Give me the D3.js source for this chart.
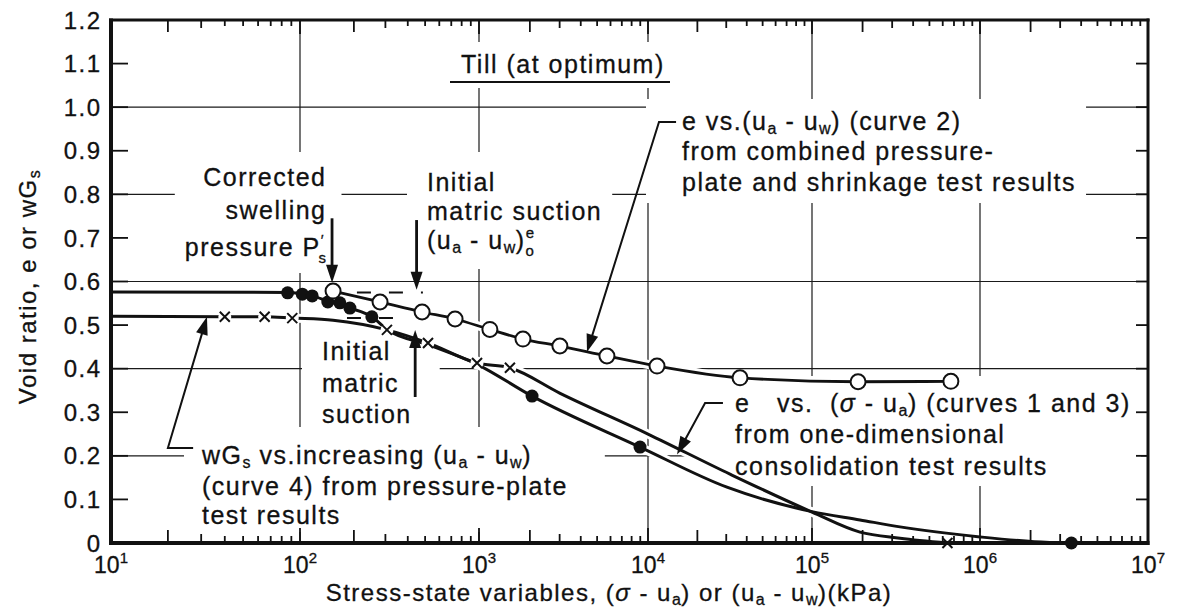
<!DOCTYPE html>
<html>
<head>
<meta charset="utf-8">
<script src="https://cdn.jsdelivr.net/npm/d3@7"></script>
<style>
  html, body { margin: 0; padding: 0; background: #fff; }
  svg { display: block; font-family: "Liberation Sans", Arial, Helvetica, sans-serif; }
  text { fill: #111; stroke: #111; stroke-width: 0.3px; }
  .note { font-size: 25px; letter-spacing: 1.5px; }
  .ytick { font-size: 24px; letter-spacing: 1.5px; }
  .xtick { font-size: 23px; letter-spacing: 0px; }
  .title { font-size: 24px; letter-spacing: 1.5px; }
</style>
</head>
<body>
<svg id="chart" width="1180" height="614"></svg>
<script>
// ---- Axis values ----
const stressDecades = [1e1, 1e2, 1e3, 1e4, 1e5, 1e6, 1e7];
const decadeExponents = ["1", "2", "3", "4", "5", "6", "7"];
const voidTicks = [0, 0.1, 0.2, 0.3, 0.4, 0.5, 0.6, 0.7, 0.8, 0.9, 1.0, 1.1, 1.2];
const voidTickLabels = ["0", "0.1", "0.2", "0.3", "0.4", "0.5", "0.6", "0.7", "0.8", "0.9", "1.0", "1.1", "1.2"];
const voidGrid = [0.2, 0.4, 0.6, 0.8, 1.0];

// ---- Curve 1: e vs (sigma - ua), one-dimensional consolidation (filled dots) ----
const curve1Points = [[86, 0.574], [103, 0.571], [117, 0.567], [143, 0.553], [167, 0.551],
  [190, 0.539], [252, 0.519], [2060, 0.337], [8970, 0.220], [3.5e6, 0]];
const curve1Trace = [[10, 0.576], [86, 0.575], [117, 0.567], [143, 0.555], [190, 0.539],
  [252, 0.519], [306, 0.490], [519, 0.455], [975, 0.410], [2060, 0.337], [8970, 0.220],
  [30300, 0.128], [1e5, 0.072], [1.93e5, 0.053], [3.34e5, 0.037], [1e6, 0.014],
  [2.1e6, 0.003], [3.5e6, 0]];

// ---- Curve 2: e vs (ua - uw), pressure-plate and shrinkage (open circles) ----
const curve2Points = [[153, 0.578], [280, 0.553], [481, 0.530], [735, 0.514], [1160, 0.490],
  [1820, 0.468], [3010, 0.452], [5715, 0.429], [11350, 0.406], [36400, 0.379],
  [188000, 0.370], [671000, 0.371]];

// ---- Curve 4: wGs vs increasing (ua - uw), pressure plate (crosses) ----
const curve4Points = [[40, 0.519], [65, 0.519], [91, 0.516], [306, 0.489], [519, 0.459],
  [975, 0.413], [1524, 0.402], [6.4e5, 0]];
const curve4Trace = [[10, 0.520], [40, 0.519], [65, 0.519], [91, 0.516], [153, 0.511],
  [306, 0.489], [519, 0.459], [975, 0.413], [1524, 0.402], [3000, 0.344], [1e4, 0.250],
  [31600, 0.158], [1e5, 0.071], [1.93e5, 0.025], [3.34e5, 0.011], [6.4e5, 0]];

// ---- Dashed extensions of the initial plateaus ----
const e0Extension = [[208, 0.575], [486, 0.575]];
const wGsExtension = [[183, 0.516], [398, 0.516]];

// ---- Scales ----
const x = d3.scaleLog().domain(stressDecades).range([111, 300, 479, 648, 812, 980, 1148]);
const y = d3.scaleLinear().domain([0, 1.2]).range([543, 20]);
const X0 = x(1e1), X1 = x(1e7), Y0 = y(0), Y1 = y(1.2);

const svg = d3.select("#chart");
const gGrid = svg.append("g");
const gMask = svg.append("g");
const gHalo = svg.append("g");
const gCurve = svg.append("g");
const gMark = svg.append("g");
const gNote = svg.append("g");
const gArrow = svg.append("g");
const gAxis = svg.append("g");

// ---- Grid ----
stressDecades.slice(1, -1).forEach(v => {
  gGrid.append("line").attr("x1", x(v)).attr("x2", x(v)).attr("y1", Y1).attr("y2", Y0)
    .attr("stroke", "#1a1a1a").attr("stroke-width", 1.2);
});
voidGrid.forEach(v => {
  gGrid.append("line").attr("x1", X0).attr("x2", X1).attr("y1", y(v)).attr("y2", y(v))
    .attr("stroke", "#1a1a1a").attr("stroke-width", 1.2);
});

// ---- Curves ----
const line = d3.line().x(d => x(d[0])).y(d => y(d[1])).curve(d3.curveMonotoneX);
const traces = [
  { data: curve1Trace, w: 3 },
  { data: curve4Trace, w: 3 },
  { data: curve2Points, w: 2.8 }
];
traces.forEach(t => {
  gHalo.append("path").attr("d", line(t.data)).attr("fill", "none")
    .attr("stroke", "#fff").attr("stroke-width", 9);
});
traces.forEach(t => {
  gCurve.append("path").attr("d", line(t.data)).attr("fill", "none")
    .attr("stroke", "#111").attr("stroke-width", t.w).attr("stroke-linejoin", "round");
});
[e0Extension, wGsExtension].forEach(seg => {
  gCurve.append("path").attr("d", d3.line().x(d => x(d[0])).y(d => y(d[1]))(seg))
    .attr("fill", "none").attr("stroke", "#111").attr("stroke-width", 2)
    .attr("stroke-dasharray", "14,18");
});

// ---- Markers ----
gMark.selectAll(".c4").data(curve4Points).join("g")
  .attr("transform", d => `translate(${x(d[0])},${y(d[1])})`)
  .each(function () {
    const g = d3.select(this);
    g.append("circle").attr("r", 6.5).attr("fill", "#fff");
    g.append("path").attr("d", "M-5,-5L5,5M-5,5L5,-5").attr("stroke", "#111")
      .attr("stroke-width", 2).attr("fill", "none");
  });
gMark.selectAll(".c1").data(curve1Points).join("circle")
  .attr("cx", d => x(d[0])).attr("cy", d => y(d[1])).attr("r", 6.5).attr("fill", "#111");
gMark.selectAll(".c2").data(curve2Points).join("circle")
  .attr("cx", d => x(d[0])).attr("cy", d => y(d[1])).attr("r", 7.5)
  .attr("fill", "#fff").attr("stroke", "#111").attr("stroke-width", 2);

// ---- Annotation text ----
function rich(text, parts) {
  let shift = 0;
  parts.forEach(p => {
    const ts = text.append("tspan").text(p.t);
    const target = p.k === "sub" ? 4 : p.k === "hi" ? -11 : p.k === "lo" ? 7 : 0;
    if (p.x !== undefined) ts.attr("x", p.x);
    if (target - shift !== 0) ts.attr("dy", target - shift);
    if (p.k) ts.attr("font-size", p.k === "sub" ? 16 : 15).attr("letter-spacing", "0.5px");
    if (p.dx) ts.attr("dx", p.dx);
    if (p.it) ts.attr("font-style", "italic");
    shift = target;
  });
}

const notes = [
  { x: 461, anchor: "start", baselines: [73], pad: [21, 13, 8, 10],
    lines: [[{ t: "Till (at optimum)" }]] },
  { x: 682, anchor: "start", baselines: [130, 160, 191], pad: [36, 10, 8, 7],
    lines: [
      [{ t: "e vs.(u" }, { t: "a", k: "sub" }, { t: " - u" }, { t: "w", k: "sub" }, { t: ") (curve 2)" }],
      [{ t: "from combined pressure-" }],
      [{ t: "plate and shrinkage test results" }]] },
  { x: 326.5, anchor: "end", baselines: [186, 219, 256], pad: [10, 15, 11, 7],
    lines: [
      [{ t: "Corrected" }],
      [{ t: "swelling" }],
      [{ t: "pressure P" }, { t: "\u2032", k: "hi" }, { t: "s", k: "lo", dx: -5.5 }]] },
  { x: 427, anchor: "start", baselines: [191, 220, 249], pad: [20, 10, 16, 10],
    lines: [
      [{ t: "Initial" }],
      [{ t: "matric suction" }],
      [{ t: "(u" }, { t: "a", k: "sub" }, { t: " - u" }, { t: "w", k: "sub" }, { t: ")" },
       { t: "e", k: "hi" }, { t: "o", k: "lo", dx: -9 }]] },
  { x: 322, anchor: "start", baselines: [360, 392, 423], pad: [20, 28, 6, 3],
    lines: [[{ t: "Initial" }], [{ t: "matric" }], [{ t: "suction" }]] },
  { x: 202, anchor: "start", baselines: [464, 495, 524], pad: [17, 37, 14, 3],
    lines: [
      [{ t: "wG" }, { t: "s", k: "sub" }, { t: " vs.increasing (u" }, { t: "a", k: "sub" },
       { t: " - u" }, { t: "w", k: "sub" }, { t: ")" }],
      [{ t: "(curve 4) from pressure-plate" }],
      [{ t: "test results" }]] },
  { x: 735, anchor: "start", baselines: [412, 443, 475], pad: [35, 10, 13, 6],
    lines: [
      [{ t: "e" }, { t: "vs.", x: 777 }, { t: "(", x: 830 }, { t: "\u03c3", it: true },
       { t: " - u" }, { t: "a", k: "sub" }, { t: ") (curves 1 and 3)" }],
      [{ t: "from one-dimensional" }],
      [{ t: "consolidation test results" }]] }
];

notes.forEach(n => {
  const g = gNote.append("g");
  n.lines.forEach((parts, i) => {
    const t = g.append("text").attr("class", "note").attr("x", n.x)
      .attr("y", n.baselines[i]).attr("text-anchor", n.anchor);
    rich(t, parts);
  });
  const b = g.node().getBBox();
  gMask.append("rect").attr("x", b.x - n.pad[0]).attr("y", b.y - n.pad[2])
    .attr("width", b.width + n.pad[0] + n.pad[1]).attr("height", b.height + n.pad[2] + n.pad[3])
    .attr("fill", "#fff");
});

// Underline of the soil name
gNote.append("line").attr("x1", 450).attr("x2", 670).attr("y1", 82).attr("y2", 82)
  .attr("stroke", "#111").attr("stroke-width", 2);

// ---- Arrows and leaders ----
function leader(ptsData, width) {
  const pts = ptsData.map(d => [x(d[0]), y(d[1])]);
  const n = pts.length;
  const [x1, y1] = pts[n - 2], [x2, y2] = pts[n - 1];
  const len = 18, half = 6;
  const a = Math.atan2(y2 - y1, x2 - x1);
  const bx = x2 - len * Math.cos(a), by = y2 - len * Math.sin(a);
  const drawn = pts.slice(0, n - 1).concat([[bx + 2 * Math.cos(a), by + 2 * Math.sin(a)]]);
  gArrow.append("path").attr("d", d3.line()(drawn)).attr("fill", "none")
    .attr("stroke", "#111").attr("stroke-width", width);
  const px = -Math.sin(a) * half, py = Math.cos(a) * half;
  gArrow.append("path")
    .attr("d", `M${x2},${y2}L${bx + px},${by + py}L${bx - px},${by - py}Z`).attr("fill", "#111");
}
leader([[151, 0.745], [151, 0.597]], 2.8);
leader([[448, 0.741], [448, 0.581]], 2.8);
leader([[440, 0.335], [440, 0.489]], 2.8);
leader([[14830, 0.966], [11670, 0.966], [4355, 0.438]], 2);
leader([[28640, 0.321], [22290, 0.321], [15030, 0.203]], 2);
leader([[27.2, 0.218], [20.0, 0.218], [32.2, 0.519]], 2);

// ---- Axes frame and ticks ----
const minor = [];
stressDecades.slice(0, -1).forEach(d => {
  for (let m = 2; m <= 9; m++) minor.push({ v: m * d, len: m === 2 ? 13 : m === 3 ? 9 : 7 });
});
minor.forEach(t => {
  gAxis.append("line").attr("x1", x(t.v)).attr("x2", x(t.v)).attr("y1", Y0).attr("y2", Y0 - t.len)
    .attr("stroke", "#111").attr("stroke-width", 1.8);
  gAxis.append("line").attr("x1", x(t.v)).attr("x2", x(t.v)).attr("y1", Y1).attr("y2", Y1 + t.len - 1)
    .attr("stroke", "#111").attr("stroke-width", 1.8);
});
stressDecades.slice(1, -1).forEach(v => {
  gAxis.append("line").attr("x1", x(v)).attr("x2", x(v)).attr("y1", Y0).attr("y2", Y0 - 15)
    .attr("stroke", "#111").attr("stroke-width", 1.8);
  gAxis.append("line").attr("x1", x(v)).attr("x2", x(v)).attr("y1", Y1).attr("y2", Y1 + 14)
    .attr("stroke", "#111").attr("stroke-width", 1.8);
});
voidTicks.slice(1, -1).forEach(v => {
  gAxis.append("line").attr("x1", X0).attr("x2", X0 + 17).attr("y1", y(v)).attr("y2", y(v))
    .attr("stroke", "#111").attr("stroke-width", 1.8);
  gAxis.append("line").attr("x1", X1).attr("x2", X1 - 12).attr("y1", y(v)).attr("y2", y(v))
    .attr("stroke", "#111").attr("stroke-width", 1.8);
});
gAxis.append("line").attr("x1", X0).attr("x2", X0).attr("y1", Y1 - 1.5).attr("y2", Y0 + 2)
  .attr("stroke", "#111").attr("stroke-width", 4);
gAxis.append("line").attr("x1", X1).attr("x2", X1).attr("y1", Y1 - 1.5).attr("y2", Y0 + 2)
  .attr("stroke", "#111").attr("stroke-width", 3);
gAxis.append("line").attr("x1", X0 - 2).attr("x2", X1 + 1.5).attr("y1", Y1).attr("y2", Y1)
  .attr("stroke", "#111").attr("stroke-width", 3);
gAxis.append("line").attr("x1", X0 - 2).attr("x2", X1 + 1.5).attr("y1", Y0).attr("y2", Y0)
  .attr("stroke", "#111").attr("stroke-width", 4);

// Tick labels
voidTicks.forEach((v, i) => {
  gAxis.append("text").attr("class", "ytick").attr("x", 101.5).attr("y", y(v))
    .attr("dy", "0.36em").attr("text-anchor", "end").text(voidTickLabels[i]);
});
stressDecades.forEach((v, i) => {
  const t = gAxis.append("text").attr("class", "xtick").attr("x", x(v)).attr("y", 573)
    .attr("text-anchor", "middle");
  t.append("tspan").text("10");
  t.append("tspan").attr("dy", -10).attr("font-size", 15).text(decadeExponents[i]);
});

// Axis titles
const xt = gAxis.append("text").attr("class", "title").attr("x", 609).attr("y", 601)
  .attr("text-anchor", "middle");
rich(xt, [{ t: "Stress-state variables, (" }, { t: "\u03c3", it: true }, { t: " - u" },
  { t: "a", k: "sub" }, { t: ") or (u" }, { t: "a", k: "sub" }, { t: " - u" },
  { t: "w", k: "sub" }, { t: ")(kPa)" }]);
const yt = gAxis.append("text").attr("class", "title").attr("letter-spacing", "2px")
  .attr("transform", "translate(36,287) rotate(-90)").attr("text-anchor", "middle");
rich(yt, [{ t: "Void ratio, e or wG" }, { t: "s", k: "sub" }]);
</script>
</body>
</html>
